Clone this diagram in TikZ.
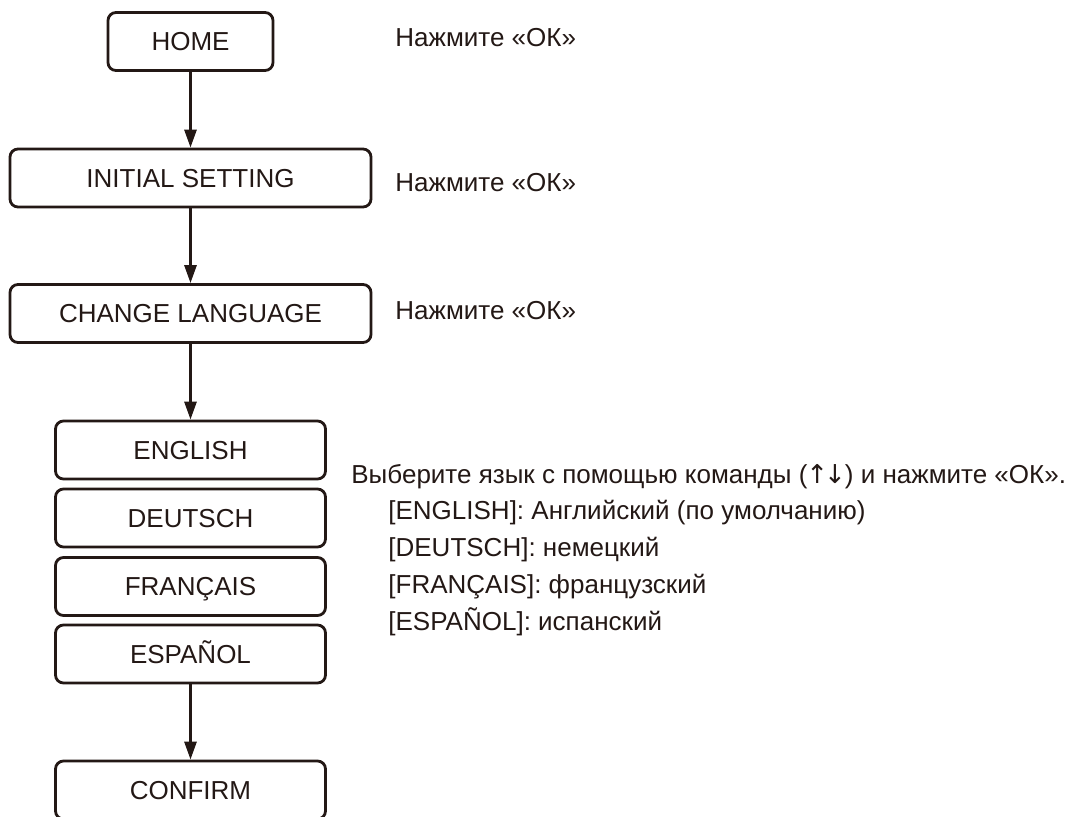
\documentclass[tikz,border=0pt]{standalone}
\usepackage{fontspec}
\setmainfont{Liberation Sans}
\newfontfamily\arrowfont{DejaVu Sans}
\usepackage{tikz}
\usetikzlibrary{arrows.meta}
\definecolor{manInk}{HTML}{231815}

\begin{document}
\begin{tikzpicture}[
  x=.5pt,y=-.5pt,
  box/.style={draw=manInk,line width=1.4pt,rounded corners=4pt,inner sep=0pt,
    minimum height=29pt,text height=9.4pt,text depth=0pt,
    font=\fontsize{13}{15}\selectfont,text=manInk},
  wide/.style={box,minimum width=180.5pt},
  lang/.style={box,minimum width=135pt},
  flow/.style={draw=manInk,line width=1.4pt,-{Triangle[length=9pt,width=6pt]}},
  note/.style={anchor=base west,inner sep=0pt,font=\fontsize{13}{15}\selectfont,text=manInk}
]
  \useasboundingbox (0,0) rectangle (1073,816);
  % menu path
  \node[box,minimum width=82.5pt] (home) at (190.5,41.5) {HOME};
  \node[wide] (init) at (190.5,178) {INITIAL SETTING};
  \node[wide] (chg) at (190.5,313.5) {CHANGE LANGUAGE};
  \foreach \n/\lab/\y in {en/ENGLISH/450,de/DEUTSCH/518,fr/FRANÇAIS/586.5,es/ESPAÑOL/654}{
    \node[lang] (\n) at (190.5,\y) {\lab};
  }
  \node[lang] (conf) at (190.5,790) {CONFIRM};
  \draw[flow] (home) -- (init);
  \draw[flow] (init) -- (chg);
  \draw[flow] (chg) -- (en);
  \draw[flow] (es) -- (conf);
  % hints
  \foreach \n/\y in {ok1/46,ok2/191,ok3/319}{
    \node[note] (\n) at (395,\y) {Нажмите «ОК»};
  }
  \node[note] (sel) at (351,483) {Выберите язык с помощью команды ({\arrowfont\kern-.5pt↑\kern-2pt↓\kern-.5pt}) и нажмите «ОК».};
  \foreach \n/\lab/\y in {ten/{[ENGLISH]: Английский (по умолчанию)}/519.75,
      tde/{[DEUTSCH]: немецкий}/556.5,tfr/{[FRANÇAIS]: французский}/593.25,
      tes/{[ESPAÑOL]: испанский}/630}{
    \node[note] (\n) at (388,\y) {\lab};
  }
\end{tikzpicture}
\end{document}
